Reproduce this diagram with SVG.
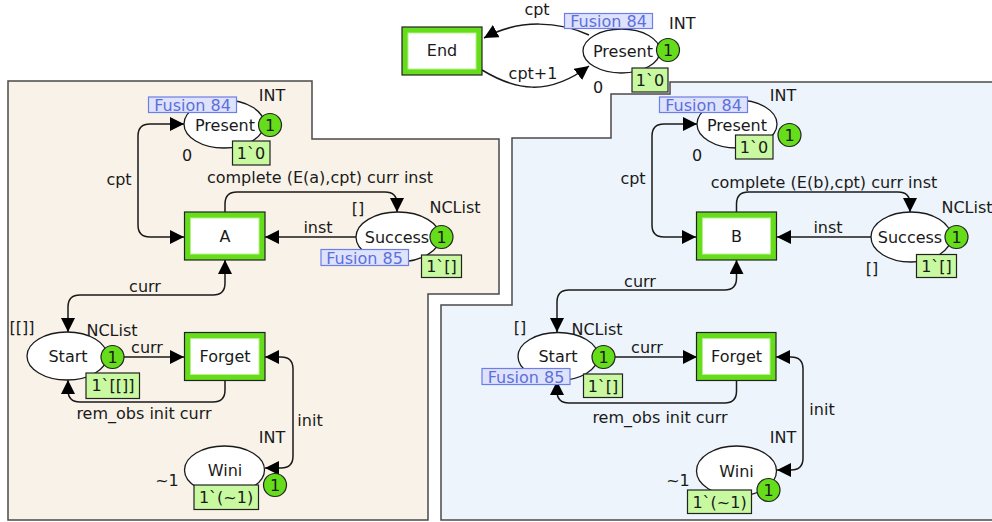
<svg xmlns="http://www.w3.org/2000/svg" width="992" height="522" viewBox="0 0 992 522">
<style>
text{font-family:"DejaVu Sans","Liberation Sans",sans-serif;font-size:16px;fill:#1a1a1a}
.c{text-anchor:middle}
.place{fill:#fff;stroke:#1a1a1a;stroke-width:1.3}
.tout{fill:#66dd1a;stroke:#222;stroke-width:1.2}
.tin{fill:#fff;stroke:#b6f08c;stroke-width:1}
.tok{fill:#66dd1a;stroke:#222;stroke-width:1.2}
.mark{fill:#c8f8a0;stroke:#222;stroke-width:1.2}
.fus{fill:#dfe2fb;stroke:#6c7fe6;stroke-width:1.2}
.fust{fill:#5b70dc}
.arc{fill:none;stroke:#1a1a1a;stroke-width:1.5}
.panel{stroke:#4a4a4a;stroke-width:1.5}
</style>
<defs>
<marker id="ah" markerUnits="userSpaceOnUse" markerWidth="14" markerHeight="14" refX="14" refY="7" orient="auto-start-reverse">
<path d="M0,0 L14,7 L0,14 z" fill="#000"/>
</marker>
</defs>
<rect width="992" height="522" fill="#fff"/>
<g id="panels">
<path class="panel" d="M8 81 H312 V139 H499 V294 H428 V520 H8 Z" fill="#f9f2e8"/>
<path class="panel" d="M670 82 H996 V520 H441 V305 H512 V138 H611 V94 H670 Z" fill="#edf4fb"/>
</g>
<g id="connectors">
<path class="arc" d="M589 35 C560 22,520 18,484 38" marker-end="url(#ah)"/>
<path class="arc" d="M482 70 C515 90,548 97,589 66" marker-end="url(#ah)"/>
<path class="arc" d="M184 124 H150 Q138 124 138 136 V225 Q138 237 150 237 H184" marker-start="url(#ah)" marker-end="url(#ah)"/>
<path class="arc" d="M225 212 V204 Q225 192 237 192 H385 Q397 192 397 204 V212" marker-end="url(#ah)"/>
<path class="arc" d="M356 237 H265" marker-end="url(#ah)"/>
<path class="arc" d="M225 260 V283 Q225 295 213 295 H80 Q68 295 68 307 V332" marker-start="url(#ah)" marker-end="url(#ah)"/>
<path class="arc" d="M124 357 H184" marker-end="url(#ah)"/>
<path class="arc" d="M225 381 V390 Q225 402 213 402 H80 Q68 402 68 390 V380" marker-end="url(#ah)"/>
<path class="arc" d="M265 357 H281 Q293 357 293 369 V456 Q293 468 281 468 H265" marker-start="url(#ah)" marker-end="url(#ah)"/>
<path class="arc" d="M697 124 H664 Q652 124 652 136 V225 Q652 237 664 237 H696" marker-start="url(#ah)" marker-end="url(#ah)"/>
<path class="arc" d="M736.5 212 V204 Q736.5 192 748.5 192 H898 Q910 192 910 204 V212" marker-end="url(#ah)"/>
<path class="arc" d="M871 237 H777" marker-end="url(#ah)"/>
<path class="arc" d="M736.5 260 V278 Q736.5 290 724.5 290 H569 Q557 290 557 302 V332" marker-start="url(#ah)" marker-end="url(#ah)"/>
<path class="arc" d="M615 357 H697" marker-end="url(#ah)"/>
<path class="arc" d="M736.5 381 V391 Q736.5 403 724.5 403 H569 Q557 403 557 391 V381" marker-end="url(#ah)"/>
<path class="arc" d="M776 357 H791 Q803 357 803 369 V458 Q803 470 791 470 H777" marker-start="url(#ah)" marker-end="url(#ah)"/>
</g>
<g id="arc-labels">
<text class="c" x="537" y="15">cpt</text>
<text class="c" x="533" y="79">cpt+1</text>
<text class="c" x="119" y="185">cpt</text>
<text class="c" x="320" y="183">complete (E(a),cpt) curr inst</text>
<text class="c" x="318" y="233">inst</text>
<text class="c" x="145" y="292">curr</text>
<text class="c" x="147" y="353">curr</text>
<text class="c" x="144" y="419">rem_obs init curr</text>
<text class="c" x="310" y="426">init</text>
<text class="c" x="633" y="184">cpt</text>
<text class="c" x="824" y="188">complete (E(b),cpt) curr inst</text>
<text class="c" x="828" y="233">inst</text>
<text class="c" x="640" y="287">curr</text>
<text class="c" x="647" y="353">curr</text>
<text class="c" x="660" y="423">rem_obs init curr</text>
<text class="c" x="822" y="415">init</text>
</g>
<g id="End">
<rect class="tout" x="402" y="27" width="80" height="48"/>
<rect class="tin" x="408" y="33" width="68" height="36"/>
<text class="c" x="442" y="56">End</text>
</g>
<g id="Present-top">
<ellipse class="place" cx="621.5" cy="51" rx="38.5" ry="22"/>
<text class="c" x="623" y="57">Present</text>
<rect class="fus" x="564.5" y="13.5" width="88" height="15"/>
<text class="c fust" x="608.5" y="26.5">Fusion 84</text>
<text x="669" y="29">INT</text>
<circle class="tok" cx="668" cy="50" r="11.5"/>
<text class="c" x="668" y="56">1</text>
<rect class="mark" x="632" y="68" width="36" height="24"/>
<text class="c" x="650" y="86">1`0</text>
<text class="c" x="598" y="93">0</text>
</g>
<g id="Present-A">
<ellipse class="place" cx="224" cy="124" rx="40" ry="24"/>
<text class="c" x="225" y="131">Present</text>
<rect class="fus" x="148.5" y="97" width="88" height="15.5"/>
<text class="c fust" x="192.5" y="110.5">Fusion 84</text>
<text class="c" x="272" y="101">INT</text>
<circle class="tok" cx="270" cy="125" r="11.5"/>
<text class="c" x="270" y="131">1</text>
<rect class="mark" x="232.5" y="141" width="37.5" height="24"/>
<text class="c" x="251" y="159">1`0</text>
<text class="c" x="187" y="161">0</text>
</g>
<g id="A">
<rect class="tout" x="184.5" y="212" width="80.5" height="48"/>
<rect class="tin" x="190.5" y="218" width="68.5" height="36"/>
<text class="c" x="225" y="242">A</text>
</g>
<g id="Success-A">
<ellipse class="place" cx="398" cy="237" rx="42" ry="25"/>
<text class="c" x="397" y="243">Success</text>
<text class="c" x="358" y="214">[]</text>
<text class="c" x="455" y="213">NCList</text>
<rect class="fus" x="321" y="249.5" width="87.5" height="16"/>
<text class="c fust" x="364.5" y="263.5">Fusion 85</text>
<circle class="tok" cx="441.5" cy="237" r="11.5"/>
<text class="c" x="441.5" y="243">1</text>
<rect class="mark" x="421.5" y="255" width="40" height="22.5"/>
<text class="c" x="441.5" y="272">1`[]</text>
</g>
<g id="Start-A">
<ellipse class="place" cx="67" cy="356" rx="40" ry="24"/>
<text class="c" x="68" y="362">Start</text>
<text class="c" x="22" y="333">[[]]</text>
<text class="c" x="112" y="336">NCList</text>
<circle class="tok" cx="112.5" cy="357" r="11.5"/>
<text class="c" x="112.5" y="363">1</text>
<rect class="mark" x="86" y="373" width="53.5" height="25.5"/>
<text class="c" x="113" y="391">1`[[]]</text>
</g>
<g id="Forget-A">
<rect class="tout" x="184.5" y="332.5" width="80.5" height="48"/>
<rect class="tin" x="190.5" y="338.5" width="68.5" height="36"/>
<text class="c" x="225" y="362">Forget</text>
</g>
<g id="Wini-A">
<ellipse class="place" cx="224.5" cy="470" rx="40" ry="24"/>
<text class="c" x="225" y="476">Wini</text>
<text class="c" x="272" y="443">INT</text>
<text class="c" x="167" y="486">~1</text>
<circle class="tok" cx="275" cy="485" r="11.5"/>
<text class="c" x="275" y="491">1</text>
<rect class="mark" x="194" y="485" width="64.5" height="24.5"/>
<text class="c" x="226" y="503">1`(~1)</text>
</g>
<g id="Present-B">
<ellipse class="place" cx="737" cy="124" rx="40" ry="24"/>
<text class="c" x="737" y="131">Present</text>
<rect class="fus" x="659.5" y="97" width="88" height="15.5"/>
<text class="c fust" x="703.5" y="110.5">Fusion 84</text>
<text class="c" x="783" y="101">INT</text>
<circle class="tok" cx="789.5" cy="135" r="11.5"/>
<text class="c" x="789.5" y="141">1</text>
<rect class="mark" x="735.5" y="135" width="37.5" height="24"/>
<text class="c" x="754" y="153">1`0</text>
<text class="c" x="697" y="161">0</text>
</g>
<g id="B">
<rect class="tout" x="696.5" y="212" width="80" height="48"/>
<rect class="tin" x="702.5" y="218" width="68" height="36"/>
<text class="c" x="736.5" y="242">B</text>
</g>
<g id="Success-B">
<ellipse class="place" cx="911" cy="237" rx="40" ry="25"/>
<text class="c" x="910" y="243">Success</text>
<text class="c" x="967" y="213">NCList</text>
<text class="c" x="872" y="274">[]</text>
<circle class="tok" cx="956.5" cy="237" r="11.5"/>
<text class="c" x="956.5" y="243">1</text>
<rect class="mark" x="916.5" y="254.5" width="40" height="23"/>
<text class="c" x="936.5" y="272">1`[]</text>
</g>
<g id="Start-B">
<ellipse class="place" cx="558" cy="356.5" rx="40" ry="24"/>
<text class="c" x="558" y="362">Start</text>
<text class="c" x="520" y="333">[]</text>
<text class="c" x="597" y="335">NCList</text>
<rect class="fus" x="482" y="368.5" width="88" height="16"/>
<text class="c fust" x="526" y="382.5">Fusion 85</text>
<circle class="tok" cx="603.5" cy="357" r="11.5"/>
<text class="c" x="603.5" y="363">1</text>
<rect class="mark" x="583.5" y="374" width="39" height="23.5"/>
<text class="c" x="603" y="392">1`[]</text>
</g>
<g id="Forget-B">
<rect class="tout" x="696.5" y="332.5" width="79.5" height="48"/>
<rect class="tin" x="702.5" y="338.5" width="67.5" height="36"/>
<text class="c" x="736.5" y="362">Forget</text>
</g>
<g id="Wini-B">
<ellipse class="place" cx="736.5" cy="471" rx="40" ry="25"/>
<text class="c" x="736.5" y="477">Wini</text>
<text class="c" x="783" y="443">INT</text>
<text class="c" x="678" y="486">~1</text>
<circle class="tok" cx="768.5" cy="490" r="11.5"/>
<text class="c" x="768.5" y="496">1</text>
<rect class="mark" x="687.5" y="490" width="64" height="23.5"/>
<text class="c" x="719.5" y="508">1`(~1)</text>
</g>
</svg>
